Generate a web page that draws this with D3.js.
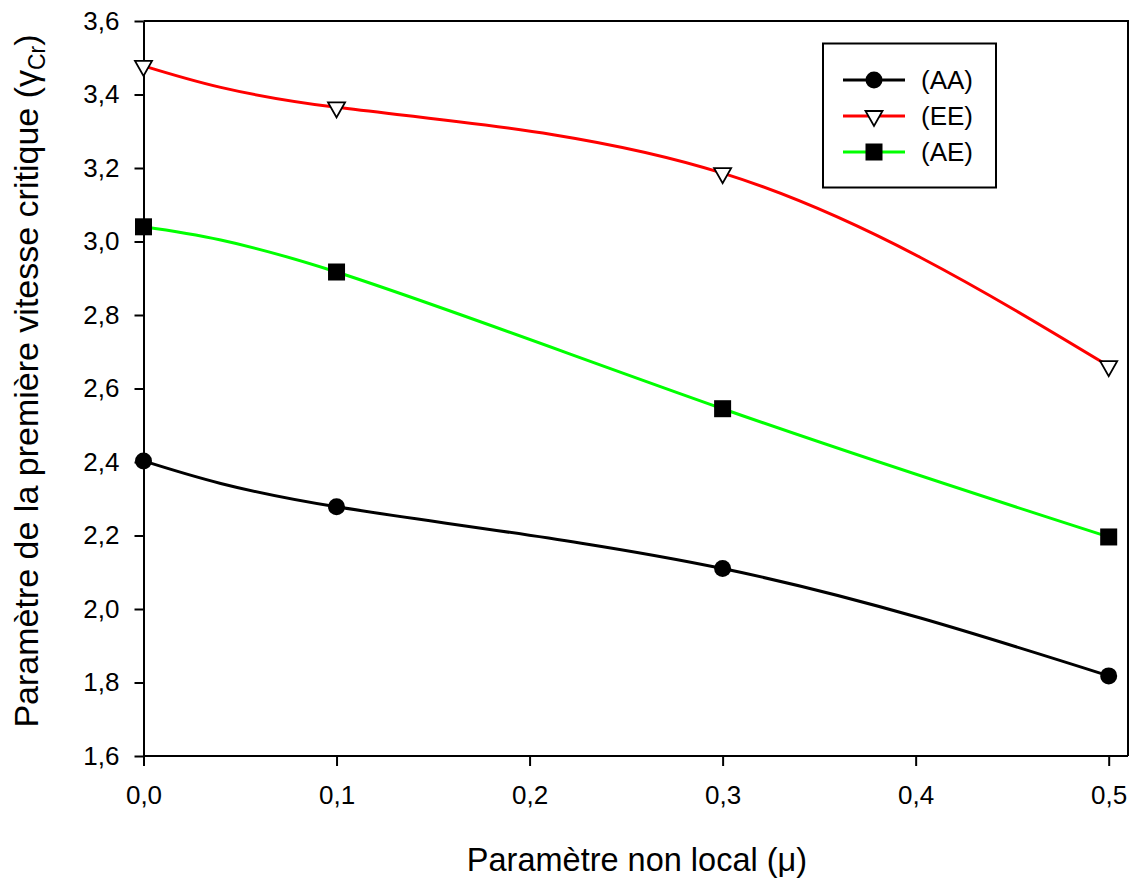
<!DOCTYPE html>
<html>
<head>
<meta charset="utf-8">
<script src="https://cdn.jsdelivr.net/npm/d3@7"></script>
<style>
  html, body { margin: 0; padding: 0; background: #fff; }
  svg { display: block; font-family: "Liberation Sans", Arial, sans-serif; }
</style>
</head>
<body>
<svg id="chart" width="1131" height="881"></svg>
<script>
// Non-local parameter values (x)
const mu = [0.0, 0.1, 0.3, 0.5];

// Critical speed parameter for each boundary-condition case
const seriesAA = [2.403, 2.278, 2.110, 1.818];
const seriesEE = [3.478, 3.365, 3.186, 2.661];
const seriesAE = [3.040, 2.917, 2.545, 2.196];

const seriesNames = ["(AA)", "(EE)", "(AE)"];
const seriesColors = ["#000000", "#ff0000", "#00ff00"];
const seriesMarkers = ["circle", "triangleDown", "square"];

const xTicks = [0.0, 0.1, 0.2, 0.3, 0.4, 0.5];
const yTicks = [1.6, 1.8, 2.0, 2.2, 2.4, 2.6, 2.8, 3.0, 3.2, 3.4, 3.6];

const allSeries = [seriesAA, seriesEE, seriesAE];

const svg = d3.select("#chart");
const plotL = 143.5, plotR = 1128, plotT = 21, plotB = 756;

const x = d3.scaleLinear().domain([0, 0.51]).range([plotL, plotR]);
const y = d3.scaleLinear().domain([1.6, 3.6]).range([plotB, plotT]);

const commaFmt = v => d3.format(".1f")(v).replace(".", ",");

// Frame (top and right sides)
svg.append("path")
  .attr("d", `M${plotL},${plotT}H${plotR}V${plotB}`)
  .attr("fill", "none").attr("stroke", "#000").attr("stroke-width", 2);

// Axes
const xAxis = svg.append("g")
  .attr("transform", `translate(0,${plotB})`)
  .call(d3.axisBottom(x).tickValues(xTicks).tickFormat(commaFmt).tickSize(10).tickPadding(20).tickSizeOuter(0));
const yAxis = svg.append("g")
  .attr("transform", `translate(${plotL},0)`)
  .call(d3.axisLeft(y).tickValues(yTicks).tickFormat(commaFmt).tickSize(9).tickPadding(15).tickSizeOuter(0));

[xAxis, yAxis].forEach(g => {
  g.select(".domain").attr("stroke-width", 2).attr("stroke", "#000");
  g.selectAll(".tick line").attr("stroke-width", 2).attr("stroke", "#000");
  g.selectAll(".tick text")
    .attr("font-size", 26)
    .attr("fill", "#000")
    .attr("font-family", "'Liberation Sans', Arial, sans-serif");
});
// Extend the bottom axis line to the right frame
xAxis.select(".domain").attr("d", `M${plotL},0H${plotR}`);

// Axis titles
svg.append("text")
  .attr("x", 637).attr("y", 871)
  .attr("text-anchor", "middle")
  .attr("font-size", 32.5)
  .text("Paramètre non local (μ)");

const yTitle = svg.append("text")
  .attr("transform", `translate(38,381) rotate(-90)`)
  .attr("text-anchor", "middle")
  .attr("font-size", 34);
yTitle.append("tspan").text("Paramètre de la première vitesse critique (γ");
yTitle.append("tspan").attr("font-size", 23).attr("dy", 7).text("Cr");
yTitle.append("tspan").attr("dy", -7).text(")");

// Curves
const line = d3.line()
  .x((d, i) => x(mu[i]))
  .y(d => y(d))
  .curve(d3.curveNatural);

allSeries.forEach((s, k) => {
  svg.append("path")
    .datum(s)
    .attr("d", line)
    .attr("fill", "none")
    .attr("stroke", seriesColors[k])
    .attr("stroke-width", 3);
});

// Marker drawing
function drawMarker(g, type, cx, cy) {
  if (type === "circle") {
    g.append("circle").attr("cx", cx).attr("cy", cy).attr("r", 8.5).attr("fill", "#000");
  } else if (type === "square") {
    g.append("rect").attr("x", cx - 8.5).attr("y", cy - 8.5)
      .attr("width", 17).attr("height", 17).attr("fill", "#000");
  } else {
    const h = 15, w = 17;
    const t = cy - h / 3, b = cy + 2 * h / 3;
    g.append("path")
      .attr("d", `M${cx - w / 2},${t}L${cx + w / 2},${t}L${cx},${b}Z`)
      .attr("fill", "#fff").attr("stroke", "#000").attr("stroke-width", 1.8)
      .attr("stroke-linejoin", "miter");
  }
}

const markers = svg.append("g");
allSeries.forEach((s, k) => {
  s.forEach((v, i) => drawMarker(markers, seriesMarkers[k], x(mu[i]), y(v)));
});

// Legend
const legend = svg.append("g");
legend.append("rect")
  .attr("x", 823).attr("y", 43.5).attr("width", 173).attr("height", 144)
  .attr("fill", "#fff").attr("stroke", "#000").attr("stroke-width", 2);
const rowY = [80, 116, 152];
seriesNames.forEach((name, k) => {
  const ry = rowY[k];
  legend.append("line")
    .attr("x1", 843).attr("x2", 905).attr("y1", ry).attr("y2", ry)
    .attr("stroke", seriesColors[k]).attr("stroke-width", 3);
  drawMarker(legend, seriesMarkers[k], 874, ry);
  legend.append("text")
    .attr("x", 921).attr("y", ry + 9)
    .attr("font-size", 26)
    .text(name);
});
</script>
</body>
</html>
